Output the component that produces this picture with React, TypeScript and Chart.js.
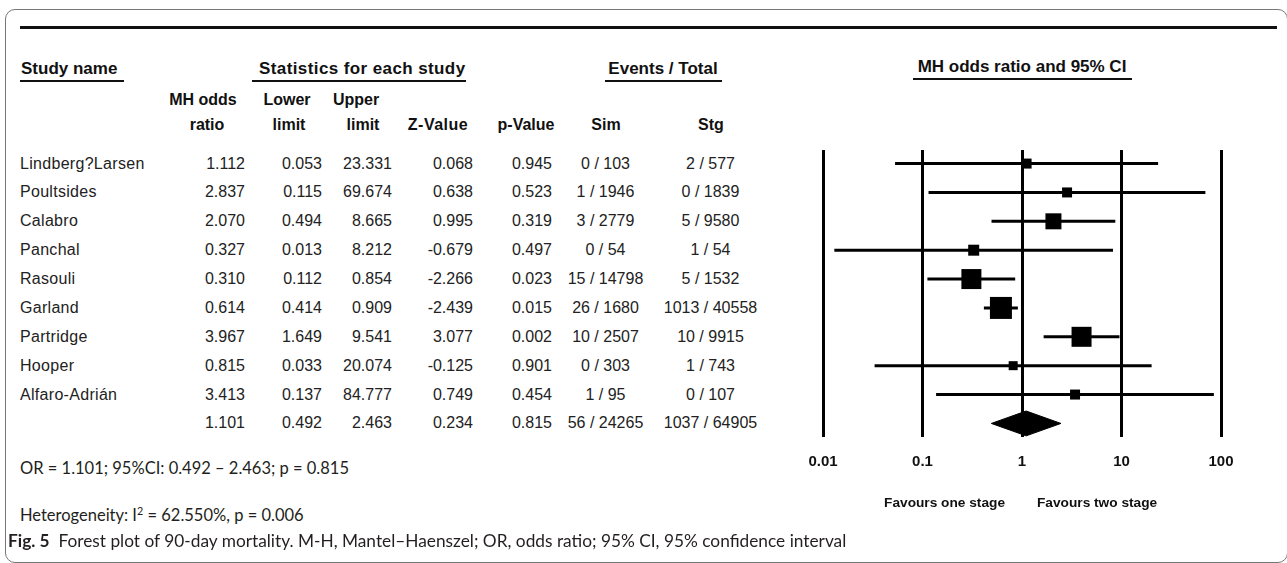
import React, { useEffect, useRef } from "react";
import { Chart, registerables } from "chart.js";

Chart.register(...registerables);

// ---------------- data ----------------
const studyNames = [
  "Lindberg?Larsen",
  "Poultsides",
  "Calabro",
  "Panchal",
  "Rasouli",
  "Garland",
  "Partridge",
  "Hooper",
  "Alfaro-Adrián",
];
const oddsRatio = [1.112, 2.837, 2.07, 0.327, 0.31, 0.614, 3.967, 0.815, 3.413];
const lowerLimit = [0.053, 0.115, 0.494, 0.013, 0.112, 0.414, 1.649, 0.033, 0.137];
const upperLimit = [23.331, 69.674, 8.665, 8.212, 0.854, 0.909, 9.541, 20.074, 84.777];
const zValues = ["0.068", "0.638", "0.995", "-0.679", "-2.266", "-2.439", "3.077", "-0.125", "0.749"];
const pValues = ["0.945", "0.523", "0.319", "0.497", "0.023", "0.015", "0.002", "0.901", "0.454"];
const simEvents = ["0 / 103", "1 / 1946", "3 / 2779", "0 / 54", "15 / 14798", "26 / 1680", "10 / 2507", "0 / 303", "1 / 95"];
const stgEvents = ["2 / 577", "0 / 1839", "5 / 9580", "1 / 54", "5 / 1532", "1013 / 40558", "10 / 9915", "1 / 743", "0 / 107"];

const pooledOR = 1.101;
const pooledLower = 0.492;
const pooledUpper = 2.463;
const pooledZ = "0.234";
const pooledP = "0.815";
const pooledSim = "56 / 24265";
const pooledStg = "1037 / 64905";

// study weight boxes (side length in px)
const weightBoxSide = [10, 10, 16, 11, 20, 22, 20, 9, 10];

const xTickValues = [0.01, 0.1, 1, 10, 100];
const xTickLabels = ["0.01", "0.1", "1", "10", "100"];

// ---------------- layout ----------------
const FONT = '"Liberation Sans", Arial, Helvetica, sans-serif';
const CAP_FONT = 'Lato, "Noto Sans", sans-serif';
const ROW0 = 163.6;
const ROW_STEP = 28.87;
const CANVAS_LEFT = 780;
const CANVAS_TOP = 140;
const CANVAS_W = 507;
const CANVAS_H = 400;

type TxtProps = {
  x: number;
  y: number;
  w?: number;
  align?: "left" | "right" | "center";
  bold?: boolean;
  size?: number;
  font?: string;
  color?: string;
  spacing?: number;
  children: React.ReactNode;
};

function Txt({ x, y, w = 200, align = "left", bold, size = 16, font = FONT, color = "#222", spacing = 0, children }: TxtProps) {
  const left = align === "right" ? x - w : align === "center" ? x - w / 2 : x;
  return (
    <div
      style={{
        position: "absolute",
        left,
        top: y - 12,
        width: w,
        height: 24,
        lineHeight: "24px",
        textAlign: align,
        whiteSpace: "nowrap",
        fontWeight: bold ? "bold" : "normal",
        fontSize: size,
        fontFamily: font,
        letterSpacing: spacing,
        color,
      }}
    >
      {children}
    </div>
  );
}

function Rule({ x1, x2, y, t = 2 }: { x1: number; x2: number; y: number; t?: number }) {
  return <div style={{ position: "absolute", left: x1, top: y - t / 2, width: x2 - x1, height: t, background: "#111" }} />;
}

const favoursPlugin = {
  id: "favours",
  afterDraw(chart: any) {
    const { ctx, chartArea, scales } = chart;
    const x1 = scales.x.getPixelForValue(1);
    const y = chartArea.bottom + 66;
    ctx.save();
    ctx.font = `bold 13.7px ${FONT}`;
    ctx.fillStyle = "#111";
    ctx.textBaseline = "middle";
    ctx.textAlign = "right";
    ctx.fillText("Favours one stage", x1 - 17, y);
    ctx.textAlign = "left";
    ctx.fillText("Favours two stage", x1 + 15, y);
    ctx.restore();
  },
};

export default function App() {
  const canvasRef = useRef<HTMLCanvasElement>(null);

  useEffect(() => {
    if (!canvasRef.current) return;
    const summaryRow = studyNames.length;
    const diamondHalf = 0.43;

    const ciDatasets = studyNames.map((_, i) => ({
      type: "line" as const,
      data: [
        { x: lowerLimit[i], y: i },
        { x: upperLimit[i], y: i },
      ],
      borderColor: "#000",
      borderWidth: 3,
      pointRadius: 0,
      fill: false,
      order: 5,
    }));

    const chart = new Chart(canvasRef.current, {
      type: "scatter",
      data: {
        datasets: [
          {
            type: "scatter",
            data: oddsRatio.map((v, i) => ({ x: v, y: i })),
            pointStyle: "rect",
            pointRadius: weightBoxSide.map((s) => s / Math.SQRT2),
            backgroundColor: "#000",
            borderColor: "#000",
            borderWidth: 0,
            order: 0,
          } as any,
          {
            type: "line",
            data: [
              { x: pooledLower, y: summaryRow },
              { x: pooledOR, y: summaryRow - diamondHalf },
              { x: pooledUpper, y: summaryRow },
              { x: pooledOR, y: summaryRow + diamondHalf },
              { x: pooledLower, y: summaryRow },
            ],
            borderColor: "#000",
            backgroundColor: "#000",
            borderWidth: 1,
            pointRadius: 0,
            fill: "shape",
            tension: 0,
            order: 1,
          } as any,
          ...ciDatasets,
        ],
      },
      options: {
        animation: false,
        responsive: false,
        devicePixelRatio: 1,
        layout: { autoPadding: false, padding: { left: 43, right: 66, top: 10, bottom: 63 } },
        plugins: {
          legend: { display: false },
          tooltip: { enabled: false },
        },
        scales: {
          x: {
            type: "logarithmic",
            min: 0.01,
            max: 100,
            afterBuildTicks: (s: any) => {
              s.ticks = xTickValues.map((v) => ({ value: v }));
            },
            afterFit: (s: any) => {
              s.height = 40;
            },
            ticks: {
              autoSkip: false,
              maxRotation: 0,
              padding: 16,
              color: "#111",
              font: { family: FONT, size: 15, weight: "bold" },
              callback: (_v: any, i: number) => xTickLabels[i],
            },
            grid: { color: "#000", lineWidth: 3, drawTicks: false },
            border: { display: false },
          },
          y: {
            type: "linear",
            min: -0.47,
            max: 9.47,
            reverse: true,
            display: false,
          },
        },
      } as any,
      plugins: [favoursPlugin],
    });
    return () => chart.destroy();
  }, []);

  const cols = (i: number) => ROW0 + ROW_STEP * i;

  return (
    <div
      style={{
        position: "absolute",
        left: 0,
        top: 0,
        width: 1287,
        height: 563,
        background: "#fff",
        overflow: "hidden",
        fontFamily: FONT,
      }}
    >
      {/* frame */}
      <div
        style={{
          position: "absolute",
          left: 5,
          top: 9,
          width: 1281,
          height: 552,
          border: "1px solid #777",
          borderRadius: 10,
        }}
      />
      <Rule x1={20} x2={1277} y={27} t={3} />

      {/* group headers */}
      <Txt x={21} y={69} bold size={17} color="#111">Study name</Txt>
      <Rule x1={20} x2={124} y={81} />
      <Txt x={259} y={69} bold size={17} spacing={0.4} color="#111">Statistics for each study</Txt>
      <Rule x1={252} x2={466} y={81} />
      <Txt x={663} y={69} w={200} align="center" bold size={17} color="#111">Events / Total</Txt>
      <Rule x1={605} x2={722} y={81} />
      <Txt x={1022} y={67} w={300} align="center" bold size={17} color="#111">MH odds ratio and 95% CI</Txt>
      <Rule x1={913} x2={1132} y={79} />

      {/* column headers */}
      <Txt x={203} y={100} w={100} align="center" bold color="#111">MH odds</Txt>
      <Txt x={207} y={125} w={100} align="center" bold color="#111">ratio</Txt>
      <Txt x={287} y={100} w={100} align="center" bold color="#111">Lower</Txt>
      <Txt x={289} y={125} w={100} align="center" bold color="#111">limit</Txt>
      <Txt x={356} y={100} w={100} align="center" bold color="#111">Upper</Txt>
      <Txt x={363} y={125} w={100} align="center" bold color="#111">limit</Txt>
      <Txt x={438} y={125} w={100} align="center" bold spacing={0.5} color="#111">Z-Value</Txt>
      <Txt x={526} y={125} w={100} align="center" bold color="#111">p-Value</Txt>
      <Txt x={606} y={125} w={100} align="center" bold color="#111">Sim</Txt>
      <Txt x={711} y={125} w={100} align="center" bold color="#111">Stg</Txt>

      {/* rows */}
      {studyNames.map((name, i) => (
        <React.Fragment key={name}>
          <Txt x={20} y={cols(i)} spacing={0.3}>{name}</Txt>
          <Txt x={245} y={cols(i)} w={90} align="right">{oddsRatio[i].toFixed(3)}</Txt>
          <Txt x={322} y={cols(i)} w={90} align="right">{lowerLimit[i].toFixed(3)}</Txt>
          <Txt x={392} y={cols(i)} w={90} align="right">{upperLimit[i].toFixed(3)}</Txt>
          <Txt x={473} y={cols(i)} w={90} align="right">{zValues[i]}</Txt>
          <Txt x={552} y={cols(i)} w={90} align="right">{pValues[i]}</Txt>
          <Txt x={605.5} y={cols(i)} w={120} align="center">{simEvents[i]}</Txt>
          <Txt x={710.5} y={cols(i)} w={140} align="center">{stgEvents[i]}</Txt>
        </React.Fragment>
      ))}
      {(() => {
        const y = cols(studyNames.length);
        return (
          <>
            <Txt x={245} y={y} w={90} align="right">{pooledOR.toFixed(3)}</Txt>
            <Txt x={322} y={y} w={90} align="right">{pooledLower.toFixed(3)}</Txt>
            <Txt x={392} y={y} w={90} align="right">{pooledUpper.toFixed(3)}</Txt>
            <Txt x={473} y={y} w={90} align="right">{pooledZ}</Txt>
            <Txt x={552} y={y} w={90} align="right">{pooledP}</Txt>
            <Txt x={605.5} y={y} w={120} align="center">{pooledSim}</Txt>
            <Txt x={710.5} y={y} w={140} align="center">{pooledStg}</Txt>
          </>
        );
      })()}

      {/* chart */}
      <canvas
        ref={canvasRef}
        width={CANVAS_W}
        height={CANVAS_H}
        style={{ position: "absolute", left: CANVAS_LEFT, top: CANVAS_TOP, width: CANVAS_W, height: CANVAS_H }}
      />

      {/* summary text */}
      <Txt x={20} y={468} w={500} size={16.5} font={CAP_FONT} color="#231f20">
        OR = 1.101; 95%CI: 0.492 – 2.463; p = 0.815
      </Txt>
      <Txt x={20} y={515} w={500} size={16.5} font={CAP_FONT} color="#231f20">
        Heterogeneity: I<sup style={{ fontSize: "0.65em", lineHeight: 0 }}>2</sup> = 62.550%, p = 0.006
      </Txt>
      <Txt x={8} y={541} w={1100} size={17.3} font={CAP_FONT} color="#231f20">
        <b>Fig. 5</b>&nbsp;&nbsp;Forest plot of 90-day mortality. M-H, Mantel–Haenszel; OR, odds ratio; 95% CI, 95% confidence interval
      </Txt>
    </div>
  );
}
